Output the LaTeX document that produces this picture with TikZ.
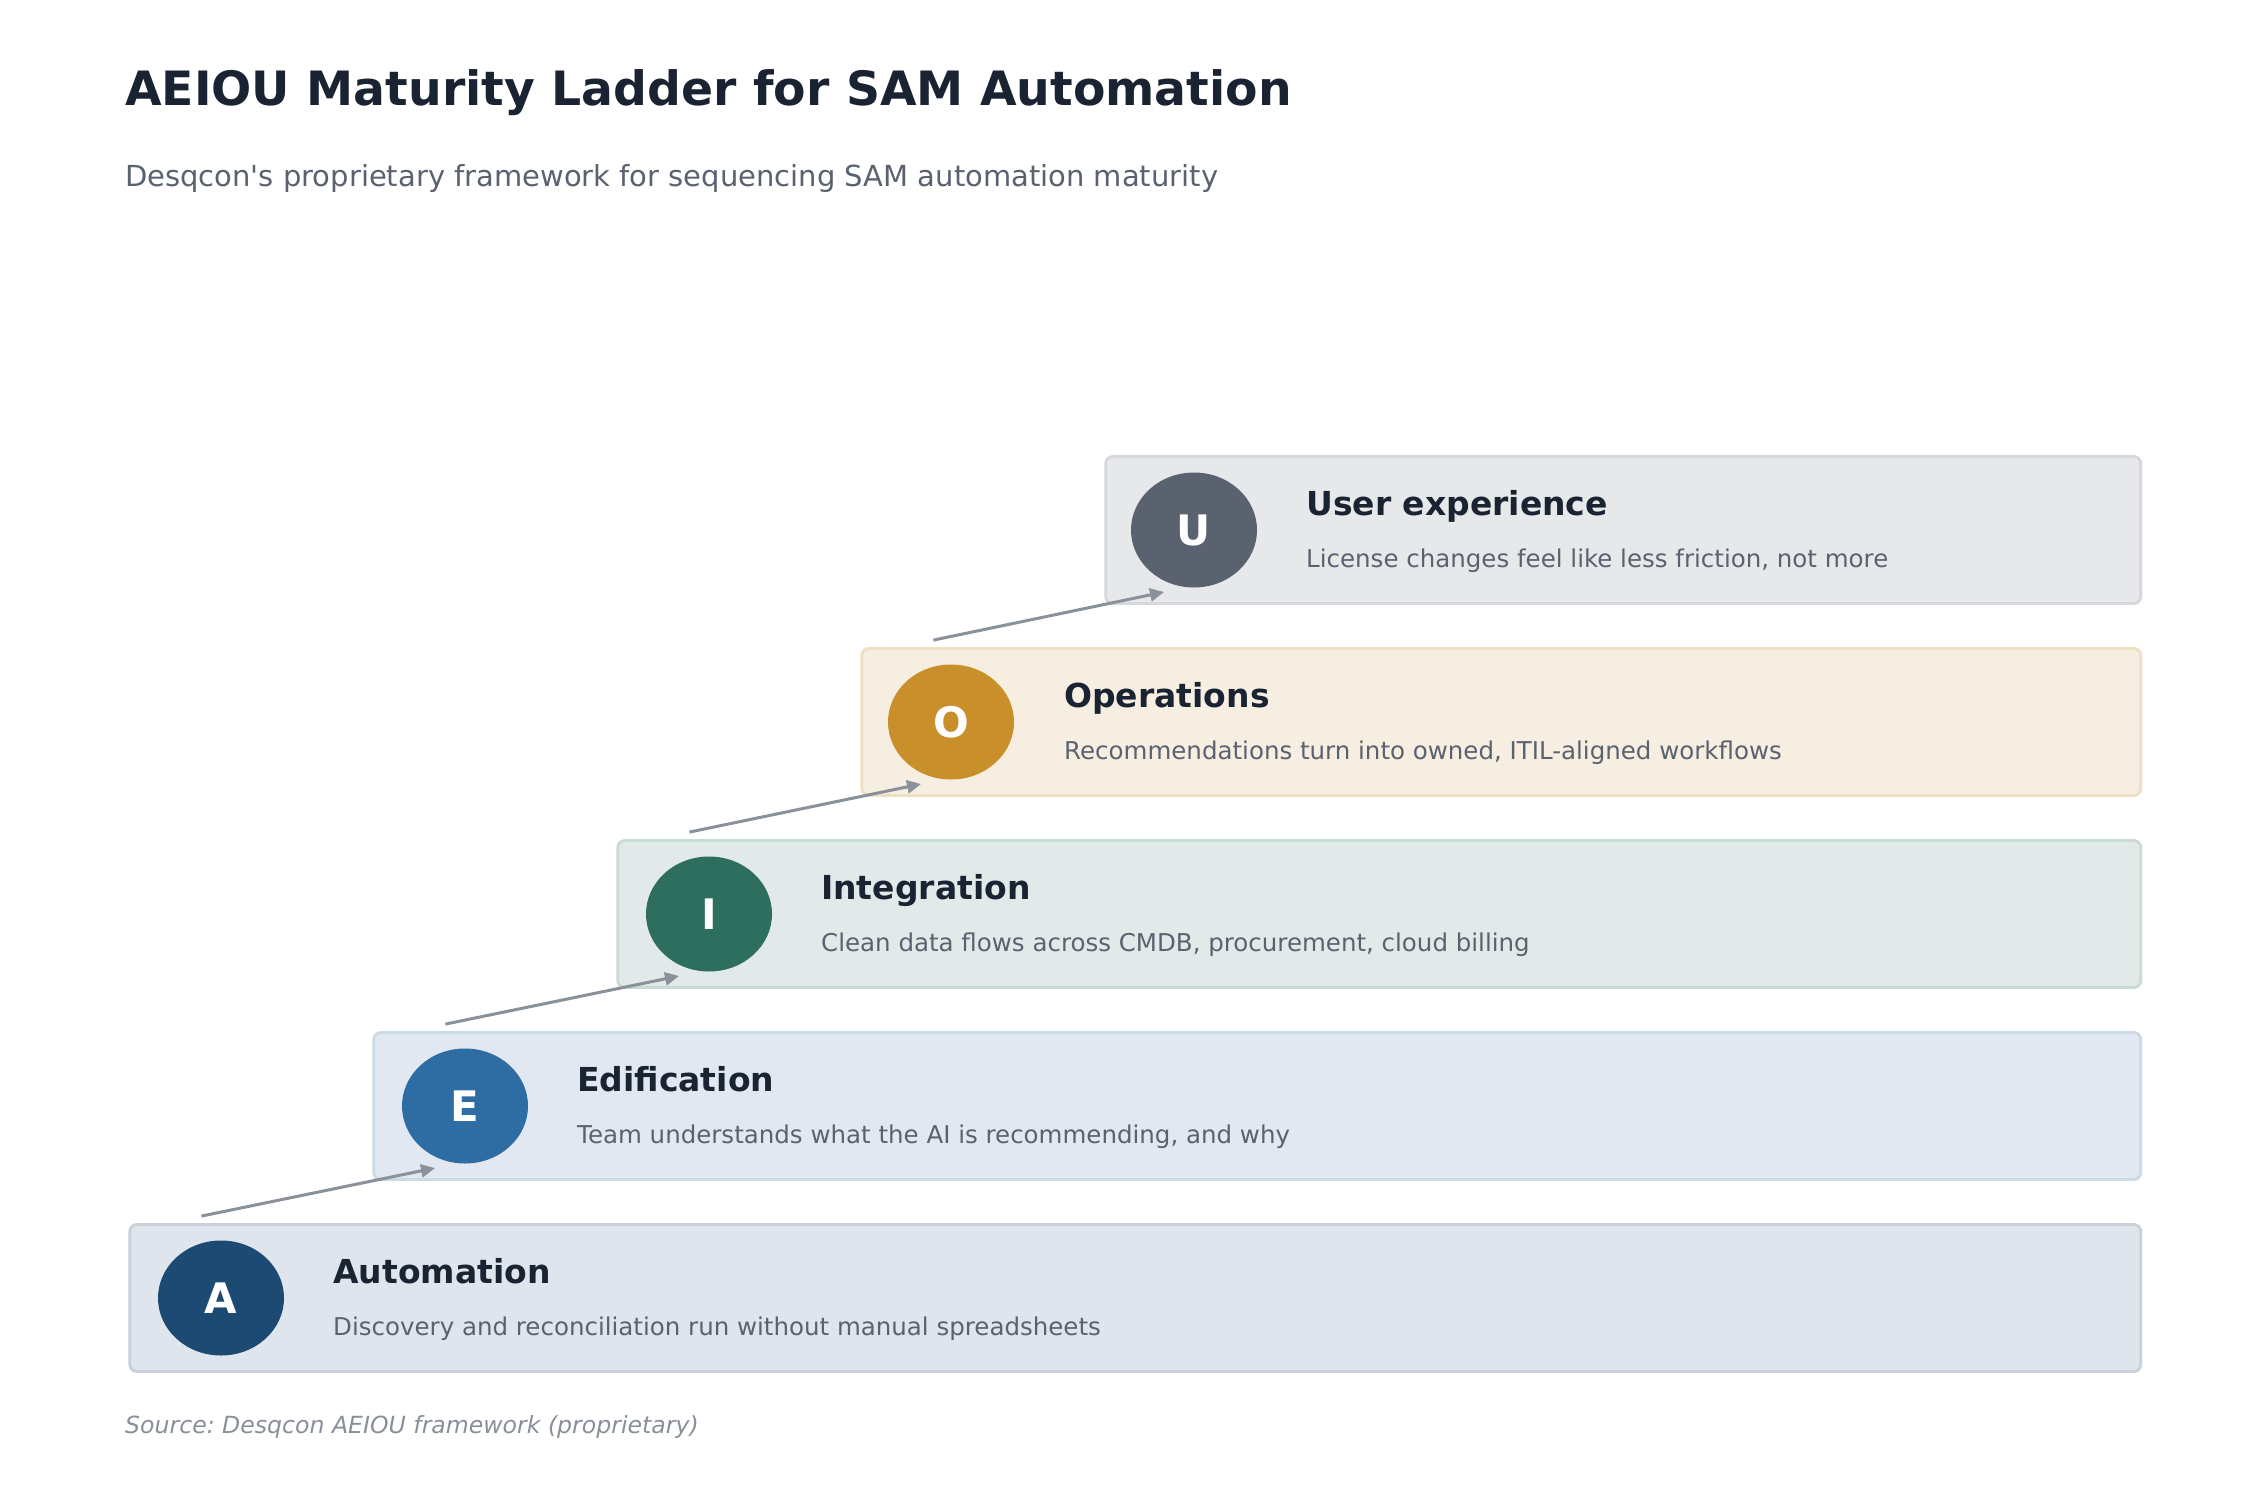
\documentclass[tikz,border=0pt]{standalone}
\usepackage{fontspec}
\setmainfont{DejaVu Sans}
\usetikzlibrary{shapes.geometric,arrows.meta,calc}
\definecolor{titlecol}{HTML}{1A2332}
\definecolor{desccol}{HTML}{5A6270}
\definecolor{srccol}{HTML}{8A909A}
\definecolor{arrowcol}{HTML}{8B919B}
\definecolor{Afill}{HTML}{DFE5EC}\definecolor{Aedge}{HTML}{C8D1DC}\definecolor{Acirc}{HTML}{1D4A72}
\definecolor{Efill}{HTML}{E1E8F1}\definecolor{Eedge}{HTML}{CCD9E6}\definecolor{Ecirc}{HTML}{2E6DA4}
\definecolor{Ifill}{HTML}{E1EAE8}\definecolor{Iedge}{HTML}{C9DBD5}\definecolor{Icirc}{HTML}{2E6E5E}
\definecolor{Ofill}{HTML}{F6EEE0}\definecolor{Oedge}{HTML}{EFDFC3}\definecolor{Ocirc}{HTML}{C98F2B}
\definecolor{Ufill}{HTML}{E7E8EA}\definecolor{Uedge}{HTML}{D5D7DB}\definecolor{Ucirc}{HTML}{5A6270}
\frenchspacing
\begin{document}
\begin{tikzpicture}[x=1pt,y=-1pt,
  stage/.style={draw, line width=2.8pt, rounded corners=7pt, minimum height=147pt, inner sep=0pt, anchor=west},
  badge/.style={ellipse, minimum width=126pt, minimum height=115pt, inner sep=0pt, text=white, font=\fontsize{42}{42}\selectfont\bfseries},
  stitle/.style={anchor=base west, inner sep=0pt, text=titlecol, font=\fontsize{33}{33}\selectfont\bfseries},
  sdesc/.style={anchor=base west, inner sep=0pt, text=desccol, font=\fontsize{24.5}{24.5}\selectfont},
  ladderarrow/.style={draw=arrowcol, line width=3pt, -{Triangle[length=14pt,width=13pt]}}
]
\path[fill=white, use as bounding box] (0,0) rectangle (2252,1507);

\node[anchor=base west, inner sep=0pt, text=titlecol, font=\fontsize{47.3}{47.3}\selectfont\bfseries] (title) at (125,105) {AEIOU Maturity Ladder for SAM Automation};
\node[anchor=base west, inner sep=0pt, text=desccol, font=\fontsize{29}{29}\selectfont] (subtitle) at (125,186) {Desqcon\textquotesingle s proprietary framework for sequencing SAM automation maturity};

% A
\node[stage, fill=Afill, draw=Aedge, minimum width=2011pt] (boxA) at (128.4,1298) {};
\node[badge, fill=Acirc] (cA) at (221,1298) {A};
\node[stitle] (tA) at (333,1283) {Automation};
\node[sdesc] (dA) at (333,1335) {Discovery and reconciliation run without manual spreadsheets};
% E
\node[stage, fill=Efill, draw=Eedge, minimum width=1767pt] (boxE) at (372.4,1106) {};
\node[badge, fill=Ecirc] (cE) at (465,1106) {E};
\node[stitle] (tE) at (577,1091) {Edification};
\node[sdesc] (dE) at (577,1143) {Team understands what the AI is recommending, and why};
% I
\node[stage, fill=Ifill, draw=Iedge, minimum width=1523pt] (boxI) at (616.4,914) {};
\node[badge, fill=Icirc] (cI) at (709,914) {I};
\node[stitle] (tI) at (821,899) {Integration};
\node[sdesc] (dI) at (821,951) {Clean data flows across CMDB, procurement, cloud billing};
% O
\node[stage, fill=Ofill, draw=Oedge, minimum width=1279pt] (boxO) at (860.4,722) {};
\node[badge, fill=Ocirc] (cO) at (951,722) {O};
\node[stitle] (tO) at (1064,707) {Operations};
\node[sdesc] (dO) at (1064,759) {Recommendations turn into owned, ITIL-aligned workflows};
% U
\node[stage, fill=Ufill, draw=Uedge, minimum width=1035pt] (boxU) at (1104.4,530) {};
\node[badge, fill=Ucirc] (cU) at (1194,530) {U};
\node[stitle] (tU) at (1306,515) {User experience};
\node[sdesc] (dU) at (1306,567) {License changes feel like less friction, not more};

% arrows
\coordinate (sA) at ($(boxA.north west)+(73,-7)$);
\coordinate (sE) at ($(boxE.north west)+(73,-7)$);
\coordinate (sI) at ($(boxI.north west)+(73,-7)$);
\coordinate (sO) at ($(boxO.north west)+(73,-7)$);
\coordinate (eE) at ($(cE)+(-30,62)$);
\coordinate (eI) at ($(cI)+(-30,62)$);
\coordinate (eO) at ($(cO)+(-30,62)$);
\coordinate (eU) at ($(cU)+(-30,62)$);
\draw[ladderarrow] (sA) -- (eE);
\draw[ladderarrow] (sE) -- (eI);
\draw[ladderarrow] (sI) -- (eO);
\draw[ladderarrow] (sO) -- (eU);

\node[anchor=base west, inner sep=0pt, text=srccol, font=\fontsize{23.6}{23.6}\selectfont\itshape] (source) at (125,1433) {Source: Desqcon AEIOU framework (proprietary)};
\end{tikzpicture}
\end{document}
